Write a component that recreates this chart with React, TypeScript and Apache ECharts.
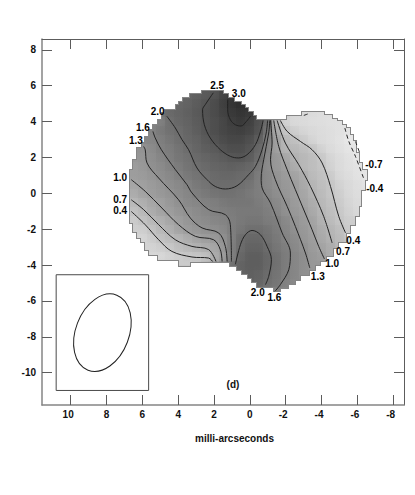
import React, { useEffect, useRef } from "react";
import * as echarts from "echarts";

const xTicks = [10, 8, 6, 4, 2, 0, -2, -4, -6, -8];
const yTicks = [8, 6, 4, 2, 0, -2, -4, -6, -8, -10];

// outline of the mapped area: [yTop, yBottom, xLeft, xRight]
const spans = [
  [5.72, 5.55, 2.67, 1.48], [5.55, 5.33, 3.32, 1.2], [5.33, 5.11, 3.73, 0.87], [5.11, 4.94, 3.94, 0.47],
  [4.94, 4.77, 4.12, 0.25], [4.77, 4.66, 4.12, 0.08], [4.66, 4.55, 4.72, 0.08], [4.55, 4.46, 4.72, -0.18],
  [4.46, 4.33, 4.9, -0.18], [4.33, 4.1, 4.9, -0.35],
  [4.53, 4.34, -2.92, -4.12], [4.34, 4.29, -2.92, -4.59], [4.29, 4.14, -2.08, -4.59], [4.14, 4.1, -2.08, -4.87],
  [4.1, 4.01, 5.11, -4.87], [4.01, 3.82, 5.11, -5.15], [3.82, 3.66, 5.39, -5.34], [3.66, 3.55, 5.39, -5.56],
  [3.55, 3.27, 5.61, -5.56], [3.27, 3.16, 5.61, -5.78], [3.16, 2.89, 5.84, -5.78], [2.89, 2.82, 5.84, -5.92],
  [2.82, 2.54, 6.02, -5.92], [2.54, 2.26, 6.28, -5.92], [2.26, 1.87, 6.28, -6.08], [1.87, 1.71, 6.51, -6.08],
  [1.71, 1.32, 6.51, -6.27], [1.32, 0.76, 6.7, -6.51], [0.76, 0.2, 6.7, -6.4], [0.2, -0.73, 6.7, -6.2],
  [-0.73, -1.29, 6.7, -6.08], [-1.29, -1.64, 6.7, -5.84], [-1.64, -1.75, 6.53, -5.84], [-1.75, -2.14, 6.53, -5.61],
  [-2.14, -2.21, 6.3, -5.61], [-2.21, -2.47, 6.3, -5.34], [-2.47, -2.74, 6.08, -5.34], [-2.74, -3.05, 5.84, -4.94],
  [-3.05, -3.14, 5.84, -4.66], [-3.14, -3.42, 5.61, -4.66], [-3.42, -3.52, 5.11, -4.66], [-3.52, -3.7, 5.11, -4.22],
  [-3.7, -3.76, 3.94, -4.22], [-3.76, -3.84, 3.94, -3.94],
  [-3.84, -4.07, 3.93, 3.32],
  [-3.84, -3.98, 1.09, -3.94], [-3.98, -4.07, 1.09, -3.66], [-4.07, -4.26, 0.72, -3.66], [-4.26, -4.48, 0.44, -3.28],
  [-4.48, -4.54, 0.12, -3.28], [-4.54, -4.72, 0.12, -2.82], [-4.72, -4.82, -0.12, -2.82], [-4.82, -4.97, -0.12, -2.54],
  [-4.97, -5.04, -0.4, -2.54], [-5.04, -5.22, -0.4, -2.11], [-5.22, -5.28, -1.33, -2.11], [-5.28, -5.47, -1.33, -1.7],
];

// shading read on a half-unit lattice: row y, x of first value (descending by 0.5), values
const shadeRows: [number, number, number[]][] = [
  [5.5, 3.5, [2.15, 2.25, 2.4, 2.55, 2.85, 3.1]],
  [5, 4, [2.1, 2.2, 2.35, 2.5, 2.7, 2.95, 3.2, 3.4]],
  [4.5, 5, [1.9, 2.05, 2.15, 2.25, 2.4, 2.55, 2.7, 2.9, 3.1, 3.2, 3.1, 3, 2.6, 0.8, 0.25, 0.1, 0.05, 0.0, -0.1, -0.15, -0.2]],
  [4, 5, [1.6, 1.95, 2.1, 2.2, 2.35, 2.5, 2.65, 2.8, 3.0, 3.1, 2.95, 2.6, 2.0, 0.7, 0.2, 0.05, 0, -0.1, -0.15, -0.2, -0.25]],
  [3.5, 5.5, [1.55, 1.75, 1.9, 2.0, 2.15, 2.3, 2.5, 2.65, 2.8, 2.9, 2.95, 2.85, 2.55, 1.8, 0.85, 0.4, 0.25, 0.15, 0.05, -0.05, -0.15, -0.25, -0.35]],
  [3, 5.5, [1.5, 1.65, 1.8, 1.95, 2.1, 2.2, 2.4, 2.55, 2.7, 2.8, 2.8, 2.65, 2.3, 1.65, 1.0, 0.6, 0.45, 0.3, 0.15, 0, -0.15, -0.3, -0.55]],
  [2.5, 6, [1.25, 1.4, 1.6, 1.7, 1.85, 2.0, 2.15, 2.3, 2.4, 2.55, 2.65, 2.65, 2.5, 2.1, 1.55, 1.0, 0.65, 0.6, 0.5, 0.4, 0.2, 0, -0.2, -0.4]],
  [2, 6, [1.2, 1.35, 1.5, 1.65, 1.8, 1.9, 2.05, 2.15, 2.25, 2.35, 2.45, 2.5, 2.35, 2.0, 1.45, 1.15, 0.9, 0.7, 0.6, 0.5, 0.35, 0.15, -0.05, -0.25, -0.5]],
  [1.5, 6.5, [1.05, 1.15, 1.3, 1.4, 1.55, 1.7, 1.85, 1.95, 2.05, 2.15, 2.2, 2.25, 2.2, 2.1, 1.8, 1.4, 1.15, 1.0, 0.8, 0.6, 0.5, 0.4, 0.2, 0, -0.2, -0.35]],
  [1, 6.5, [1.05, 1.1, 1.2, 1.35, 1.45, 1.6, 1.75, 1.85, 1.95, 2.05, 2.1, 2.1, 2.05, 2.0, 1.7, 1.45, 1.25, 1.1, 0.95, 0.8, 0.55, 0.45, 0.3, 0.1, -0.1, -0.3, -0.45]],
  [0.5, 6.5, [0.9, 1.0, 1.1, 1.2, 1.35, 1.45, 1.6, 1.75, 1.85, 2.0, 2.0, 2.0, 1.95, 1.85, 1.65, 1.45, 1.3, 1.15, 1.05, 0.85, 0.65, 0.5, 0.4, 0.2, 0.05, -0.15, -0.35]],
  [0, 6.5, [0.8, 0.95, 1.05, 1.15, 1.25, 1.4, 1.5, 1.65, 1.75, 1.85, 1.9, 1.9, 1.85, 1.75, 1.65, 1.5, 1.35, 1.2, 1.05, 0.9, 0.7, 0.55, 0.4, 0.25, 0.1, -0.1]],
  [-0.5, 6.5, [0.6, 0.75, 0.9, 1.0, 1.15, 1.3, 1.45, 1.5, 1.6, 1.65, 1.75, 1.8, 1.8, 1.8, 1.7, 1.6, 1.45, 1.3, 1.1, 0.95, 0.8, 0.6, 0.45, 0.3, 0.15, 0]],
  [-1, 6.5, [0.45, 0.6, 0.8, 0.95, 1.05, 1.2, 1.3, 1.4, 1.5, 1.6, 1.65, 1.7, 1.75, 1.75, 1.75, 1.65, 1.5, 1.3, 1.15, 1.05, 0.85, 0.65, 0.5, 0.35, 0.2, 0.05]],
  [-1.5, 6.5, [0.3, 0.45, 0.6, 0.75, 0.9, 1.05, 1.2, 1.35, 1.4, 1.5, 1.55, 1.65, 1.75, 1.8, 1.8, 1.7, 1.65, 1.45, 1.25, 1.1, 0.95, 0.7, 0.55, 0.4, 0.25]],
  [-2, 6, [0.25, 0.42, 0.6, 0.75, 0.95, 1.1, 1.2, 1.3, 1.35, 1.45, 1.65, 1.8, 1.95, 1.95, 1.85, 1.7, 1.5, 1.3, 1.15, 1.0, 0.8, 0.65, 0.5, 0.3]],
  [-2.5, 6, [0.15, 0.28, 0.45, 0.55, 0.65, 0.8, 0.95, 1.05, 1.15, 1.3, 1.6, 2.0, 2.1, 2.1, 1.9, 1.75, 1.55, 1.4, 1.2, 1.05, 0.85, 0.7, 0.55, 0.35]],
  [-3, 5.5, [0.18, 0.25, 0.35, 0.5, 0.6, 0.7, 0.8, 0.9, 1.2, 1.65, 2.0, 2.2, 2.2, 2.0, 1.8, 1.65, 1.45, 1.3, 1.1, 0.95, 0.8, 0.6]],
  [-3.5, 5, [0.1, 0.2, 0.28, 0.35, 0.38, 0.45, 0.8, 1.05, 1.6, 2.1, 2.3, 2.3, 2.1, 1.9, 1.7, 1.5, 1.35, 1.15, 1.05, 0.8]],
  [-4, 3.5, [0.3, 0.35, 0.6, 1.0, 1.5, 1.9, 2.2, 2.3, 2.3, 2.1, 1.9, 1.7, 1.5, 1.35, 1.15]],
  [-4.5, 0.5, [2.2, 2.25, 2.2, 2.0, 1.85, 1.65, 1.5, 1.3]],
  [-5, 0, [2.25, 2.15, 1.95, 1.8, 1.6, 1.45]],
  [-5.5, -1.5, [1.6, 1.5]],
];

// grey level reached at each level of the map
const greyScale = [[-0.7, 236], [0.1, 216], [0.5, 190], [1, 160], [2, 108], [3.3, 48]];

const contour30 = [[1.24, 5.22], [1.24, 4.66], [1.09, 4.1], [0.81, 3.82], [0.49, 3.75], [0.2, 4.0], [-0.03, 4.29]];
const contour25 = [[2.04, 5.6], [2.49, 4.94], [2.64, 4.66], [2.54, 3.82], [2.21, 3.08], [1.65, 2.43], [1.09, 2.06], [0.63, 1.97], [0.16, 2.15], [-0.31, 2.71], [-0.59, 3.45], [-0.74, 4.06]];
const contour20 = [[4.63, 4.29], [4.16, 3.64], [3.79, 2.99], [3.42, 2.43], [2.95, 1.41], [2.39, 0.76], [1.93, 0.38], [1.37, 0.24], [0.72, 0.42], [0.07, 1.04], [-0.31, 1.5], [-0.68, 2.43], [-0.91, 3.36], [-0.99, 4.06]];
const contour20b = [[0.81, -3.96], [0.53, -2.87], [0.25, -2.31], [-0.12, -2.07], [-0.59, -2.31], [-0.96, -2.96], [-1.2, -3.7], [-1.05, -4.63], [-0.87, -5.09]];
const contour16a = [[5.41, 3.45], [5.28, 3.08], [4.94, 2.43], [4.16, 1.32], [3.51, 0.48], [3.23, 0.02], [2.3, -0.91], [1.37, -1.19], [1.09, -1.75], [1.03, -3.8]];
const contour16b = [[-1.11, 4.06], [-1.05, 3.36], [-0.77, 1.87], [-0.63, 0.85], [-0.68, 0.3], [-1.15, -0.54], [-1.8, -2.21], [-2.26, -3.33], [-2.17, -4.26], [-1.7, -5.09], [-1.39, -5.47]];
const contour13a = [[5.93, 2.61], [5.84, 2.43], [5.74, 1.69], [5.09, 0.85], [3.98, -0.36], [3.32, -1.38], [2.67, -1.93], [1.74, -2.21], [1.37, -2.96], [1.27, -3.8]];
const contour13b = [[-1.15, 4.06], [-1.24, 2.8], [-1.15, 1.87], [-1.42, 0.76], [-2.08, -0.73], [-2.54, -1.85], [-3.1, -3.33], [-3.34, -4.16]];
const contour10a = [[6.62, 0.76], [5.84, 0.11], [4.91, -0.82], [3.98, -1.75], [3.04, -2.4], [2.02, -2.59], [1.65, -3.14], [1.55, -3.8]];
const contour10b = [[-1.33, 4.06], [-1.61, 2.61], [-2.08, 1.32], [-2.54, 0.2], [-3.2, -1.38], [-3.47, -2.03], [-3.84, -2.96], [-4.16, -3.66]];
const contour07a = [[6.62, -0.36], [5.93, -0.91], [5.09, -1.75], [4.16, -2.59], [3.23, -2.96], [2.3, -3.14], [1.89, -3.8]];
const contour07b = [[-1.52, 4.06], [-1.98, 2.8], [-2.73, 1.59], [-3.38, 0.38], [-4.12, -1.29], [-4.59, -2.77]];
const contour04a = [[6.62, -1.01], [5.84, -1.75], [5.09, -2.59], [4.35, -3.24], [3.23, -3.55], [2.3, -3.61], [2.08, -3.8]];
const contour04b = [[-1.7, 4.06], [-2.08, 3.45], [-2.82, 2.89], [-3.47, 2.43], [-4.03, 1.69], [-4.5, 0.38], [-4.96, -1.29], [-5.34, -2.21]];
const contourNeg04 = [[-5.3, 3.64], [-5.52, 2.89], [-5.89, 2.06], [-6.36, 0.8]];
const contourNeg07 = [[-5.89, 2.89], [-6.13, 2.25]];
const contourNegTop = [[-3.01, 4.34], [-3.28, 4.44]];

const beamBox = [[10.81, -4.54], [5.65, -4.54], [5.65, -10.99], [10.81, -10.99], [10.81, -4.54]];
// centre x, centre y, semi-major, semi-minor (axis units), tilt in degrees from vertical
const beam = [[8.23, -7.77, 2.24, 1.49, 21]];

const labelPoints = [
  [1.83, 5.99], [0.62, 5.59], [5.15, 4.56], [5.97, 3.64], [6.36, 2.93],
  [7.24, 0.89], [7.24, -0.36], [7.24, -0.95], [-6.92, 1.63], [-6.97, 0.29],
  [-5.77, -2.62], [-5.2, -3.27], [-4.59, -3.94], [-3.79, -4.63], [-0.44, -5.53], [-1.37, -5.83],
];
const labelTexts = ["2.5", "3.0", "2.0", "1.6", "1.3", "1.0", "0.7", "0.4", "-0.7", "-0.4", "0.4", "0.7", "1.0", "1.3", "2.0", "1.6"];

const solid = [contour30, contour25, contour20, contour20b, contour16a, contour16b, contour13a, contour13b, contour10a, contour10b, contour07a, contour07b, contour04a, contour04b];
const dashed = [contourNeg04, contourNeg07, contourNegTop];

const FONT = "'Liberation Sans', Arial, sans-serif";
const INK = "#111";
const AXIS_DARK = "#5c5c5c";
const AXIS_SOFT = "#858585";

function nearestRow(y: number) {
  let row = shadeRows[0];
  for (const r of shadeRows) if (Math.abs(r[0] - y) < Math.abs(row[0] - y)) row = r;
  return row;
}
function latticeValue(x: number, y: number) {
  const row = nearestRow(y);
  const i = Math.round((row[1] - x) / 0.5);
  return row[2][Math.max(0, Math.min(row[2].length - 1, i))];
}
function mixX(x: number, y: number) {
  const lo = Math.floor(x * 2) / 2;
  const t = (x - lo) / 0.5;
  return latticeValue(lo, y) * (1 - t) + latticeValue(lo + 0.5, y) * t;
}
function mixY(x: number, y: number) {
  const lo = Math.floor(y * 2) / 2;
  const t = (y - lo) / 0.5;
  return latticeValue(x, lo) * (1 - t) + latticeValue(x, lo + 0.5) * t;
}
function grey(v: number) {
  let g = greyScale[0][1];
  for (let i = 0; i < greyScale.length - 1; i++) {
    const [a, ga] = greyScale[i];
    const [b, gb] = greyScale[i + 1];
    if (v >= a) g = ga + ((Math.min(v, b) - a) / (b - a)) * (gb - ga);
  }
  const n = Math.round(g);
  return `rgb(${n},${n},${n})`;
}

// split outline spans along the half-unit lattice
function buildCells() {
  const cells: number[][] = [];
  const cuts = (hi: number, lo: number) => {
    const out = [hi];
    for (let k = Math.ceil((hi - 0.25) / 0.5); k * 0.5 + 0.25 > lo; k--) {
      const v = k * 0.5 + 0.25;
      if (v < hi && v > lo) out.push(v);
    }
    out.push(lo);
    return out;
  };
  for (const [yt, yb, xl, xr] of spans) {
    const ys = cuts(yt, yb);
    const xs = cuts(xl, xr);
    for (let a = 0; a < ys.length - 1; a++) {
      for (let b = 0; b < xs.length - 1; b++) cells.push([xs[b], xs[b + 1], ys[a], ys[a + 1]]);
    }
  }
  return cells;
}

function boxOf(api: any, pad: number) {
  const p0 = api.coord([api.value(0), api.value(2)]);
  const p1 = api.coord([api.value(1), api.value(3)]);
  const x0 = Math.round(p0[0]) - pad;
  const y0 = Math.round(p0[1]) - pad;
  const x1 = Math.round(p1[0]) + pad;
  const y1 = Math.round(p1[1]) + pad;
  return { x: x0, y: y0, width: x1 - x0, height: y1 - y0 };
}

function stops(a: number, b: number, sample: (t: number) => number) {
  const c = Math.round(((a + b) / 2) * 2) / 2;
  const list = [{ offset: 0, color: grey(sample(a)) }];
  if (c < a && c > b) list.push({ offset: (a - c) / (a - b), color: grey(sample(c)) });
  list.push({ offset: 1, color: grey(sample(b)) });
  return list;
}

function shadeAcross(api: any) {
  const shape = boxOf(api, 0);
  if (shape.width <= 0 || shape.height <= 0) return undefined;
  const [xa, xb, ya, yb] = [api.value(0), api.value(1), api.value(2), api.value(3)];
  const ym = (ya + yb) / 2;
  return {
    type: "rect",
    shape,
    style: { fill: new echarts.graphic.LinearGradient(0, 0, 1, 0, stops(xa, xb, (x) => mixX(x, ym))) },
  };
}
function shadeDown(api: any) {
  const shape = boxOf(api, 0);
  if (shape.width <= 0 || shape.height <= 0) return undefined;
  const [xa, xb, ya, yb] = [api.value(0), api.value(1), api.value(2), api.value(3)];
  const xm = (xa + xb) / 2;
  return {
    type: "rect",
    shape,
    style: { opacity: 0.5, fill: new echarts.graphic.LinearGradient(0, 0, 0, 1, stops(ya, yb, (y) => mixY(xm, y))) },
  };
}

function frameAxis(color: string, width: number, extra: any) {
  return {
    type: "value",
    scale: true,
    splitLine: { show: false },
    axisLine: { show: true, onZero: false, lineStyle: { color, width } },
    ...extra,
  };
}

export default function App() {
  const ref = useRef<HTMLDivElement>(null);
  useEffect(() => {
    document.body.style.margin = "0";
    const chart = echarts.init(ref.current!, undefined, { renderer: "svg" });
    const xRange = { min: -8.6, max: 11.6, inverse: true };
    const yRange = { min: -11.8, max: 8.6 };
    const lab = { color: INK, fontFamily: FONT, fontSize: 10, fontWeight: "bold" };
    const tick = (values: number[]) => ({ show: true, inside: true, length: 10, customValues: values, lineStyle: { color: AXIS_DARK, width: 1 } });
    const lineBase = { type: "line", symbol: "none", silent: true, clip: false, animation: false };
    const cells = buildCells();
    chart.setOption({
      animation: false,
      backgroundColor: "#fff",
      grid: { left: 42, right: 11, top: 39, bottom: 90, containLabel: false },
      xAxis: [
        frameAxis(AXIS_SOFT, 1.5, {
          ...xRange,
          position: "bottom",
          axisTick: tick(xTicks),
          axisLabel: {
            ...lab,
            margin: 4,
            customValues: xTicks,
            formatter: (v: number) => (v < 0 || v >= 10 ? `{s|${v}}` : `${v}`),
            rich: { s: { ...lab, padding: [0, 5, 0, 0] } },
          },
        }),
        frameAxis(AXIS_DARK, 1, { ...xRange, position: "top", axisTick: tick(xTicks), axisLabel: { show: false } }),
      ],
      yAxis: [
        frameAxis(AXIS_SOFT, 1.5, { ...yRange, position: "left", axisTick: tick(yTicks), axisLabel: { ...lab, margin: 6, customValues: yTicks } }),
        frameAxis(AXIS_DARK, 1, { ...yRange, position: "right", axisTick: tick(yTicks), axisLabel: { show: false } }),
      ],
      series: [
        {
          type: "custom",
          silent: true,
          clip: false,
          data: spans.map((s) => [s[2], s[3], s[0], s[1]]),
          encode: { x: [0, 1], y: [2, 3] },
          renderItem: (_: any, api: any) => ({ type: "rect", shape: boxOf(api, 1), style: { fill: "#858585" } }),
        },
        {
          type: "custom",
          silent: true,
          clip: false,
          data: cells,
          encode: { x: [0, 1], y: [2, 3] },
          renderItem: (_: any, api: any) => shadeAcross(api),
        },
        {
          type: "custom",
          silent: true,
          clip: false,
          data: cells,
          encode: { x: [0, 1], y: [2, 3] },
          renderItem: (_: any, api: any) => shadeDown(api),
        },
        ...solid.map((data) => ({ ...lineBase, smooth: 0.35, data, lineStyle: { color: "#222", width: 1 } })),
        ...dashed.map((data) => ({ ...lineBase, smooth: 0.3, data, lineStyle: { color: "#222", width: 1, type: [4, 3] } })),
        { ...lineBase, data: beamBox, lineStyle: { color: "#4a4a4a", width: 1 } },
        {
          type: "custom",
          silent: true,
          clip: false,
          data: beam,
          encode: { x: 0, y: 1 },
          renderItem: (_: any, api: any) => {
            const c = api.coord([api.value(0), api.value(1)]);
            const [sx, sy] = api.size([1, 1]);
            return {
              type: "ellipse",
              x: c[0],
              y: c[1],
              rotation: (-api.value(4) * Math.PI) / 180,
              shape: { cx: 0, cy: 0, rx: api.value(3) * sx, ry: api.value(2) * sy },
              style: { fill: "none", stroke: "#222", lineWidth: 1 },
            };
          },
        },
        {
          type: "custom",
          silent: true,
          clip: false,
          data: labelPoints,
          encode: { x: 0, y: 1 },
          renderItem: (params: any, api: any) => {
            const c = api.coord([api.value(0), api.value(1)]);
            return {
              type: "text",
              x: c[0],
              y: c[1],
              style: { text: labelTexts[params.dataIndex], fill: "#000", font: `bold 10px ${FONT}`, align: "center", verticalAlign: "middle" },
            };
          },
        },
      ],
      graphic: [
        { type: "text", x: 233, y: 384, style: { text: "(d)", font: `bold 10px ${FONT}`, fill: INK, textAlign: "center", textVerticalAlign: "middle" } },
        { type: "text", x: 234.5, y: 438, style: { text: "milli-arcseconds", font: `bold 10px ${FONT}`, fill: INK, textAlign: "center", textVerticalAlign: "middle" } },
      ],
    });
    return () => chart.dispose();
  }, []);
  return <div ref={ref} style={{ position: "absolute", left: 0, top: 0, width: 415, height: 495 }} />;
}
